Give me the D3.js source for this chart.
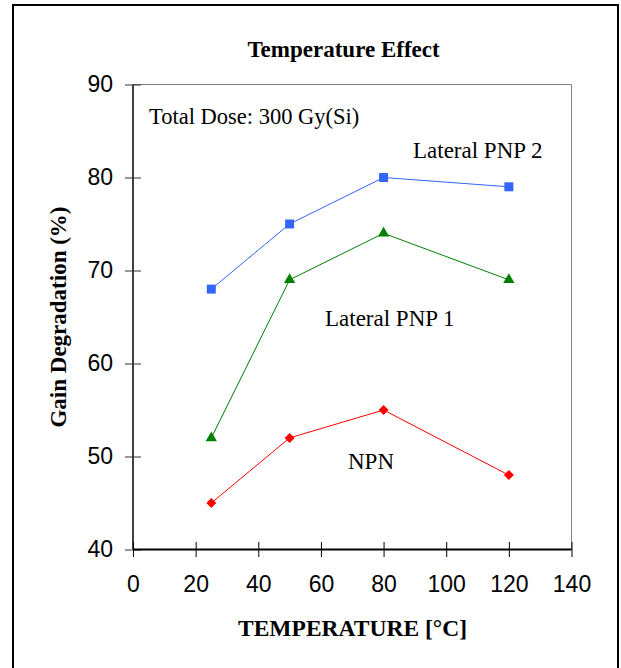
<!DOCTYPE html>
<html>
<head>
<meta charset="utf-8">
<script src="https://cdn.jsdelivr.net/npm/d3@7"></script>
<style>
  body { margin: 0; background: #fff; }
</style>
</head>
<body>
<div id="chart"></div>
<script>
// data
var temps = [25, 50, 80, 120];
var pnp2 = [68, 75, 80, 79];
var pnp1 = [52, 69, 74, 69];
var npn = [45, 52, 55, 48];
var xTicks = [0, 20, 40, 60, 80, 100, 120, 140];
var yTicks = [40, 50, 60, 70, 80, 90];

var W = 621, H = 668;
var pLeft = 133, pRight = 571.5, pTop = 84.5, pBottom = 549.5;

var svg = d3.select("#chart").append("svg")
    .attr("width", W)
    .attr("height", H);

// outer frame
svg.append("rect")
    .attr("x", 13).attr("y", 5)
    .attr("width", 605).attr("height", 700)
    .attr("fill", "none")
    .attr("stroke", "#000")
    .attr("stroke-width", 2);

var x = d3.scaleLinear().domain([0, 140]).range([pLeft, pRight]);
var y = d3.scaleLinear().domain([40, 90]).range([pBottom, pTop]);

// plot box top/right
svg.append("path")
    .attr("d", "M" + pLeft + "," + pTop + "H" + pRight + "V" + pBottom)
    .attr("fill", "none")
    .attr("stroke", "#808080")
    .attr("stroke-width", 1);

var yAxis = svg.append("g")
    .attr("transform", "translate(" + pLeft + ",0)")
    .call(d3.axisLeft(y).tickValues(yTicks).tickSize(8).tickPadding(12));
var xAxis = svg.append("g")
    .attr("transform", "translate(0," + pBottom + ")")
    .call(d3.axisBottom(x).tickValues(xTicks).tickSize(8).tickPadding(18));

[yAxis, xAxis].forEach(function (g) {
    g.select(".domain").attr("stroke", "#000").attr("stroke-width", 1.5);
    g.selectAll(".tick line").attr("stroke", "#000");
    g.selectAll(".tick text")
        .style("font-family", "Liberation Sans, Arial, sans-serif")
        .style("font-size", "23px")
        .attr("fill", "#000");
});
yAxis.select(".domain").attr("d", "M0," + pBottom + "V" + pTop);
yAxis.selectAll(".tick line").attr("x2", -8).attr("x1", 8).attr("stroke", "#333");
xAxis.select(".domain").attr("stroke-width", 2.2).attr("d", "M" + pLeft + ",0H" + pRight);
xAxis.selectAll(".tick line").attr("y1", -7.5).attr("y2", 7.5);

var serif = "Liberation Serif, Times New Roman, serif";

function addText(t, px, py, size, bold, anchor) {
    return svg.append("text")
        .attr("x", px).attr("y", py)
        .attr("text-anchor", anchor || "start")
        .style("font-family", serif)
        .style("font-size", size + "px")
        .style("font-weight", bold ? "bold" : "normal")
        .text(t);
}

addText("Temperature Effect", 343.5, 57, 23, true, "middle");
addText("TEMPERATURE [°C]", 352.5, 636, 23.5, true, "middle");
addText("Gain Degradation (%)", 0, 0, 23, true, "middle")
    .attr("transform", "translate(66,317) rotate(-90)");

addText("Total Dose: 300 Gy(Si)", 149, 124, 22.5, false);
addText("Lateral PNP 2", 413, 158, 23, false);
addText("Lateral PNP 1", 325, 326, 23, false);
addText("NPN", 348, 469, 23, false);

var series = [
    { vals: pnp2, color: "#3366ff", shape: d3.symbolSquare, size: 81, rot: 0 },
    { vals: pnp1, color: "#008000", shape: d3.symbolTriangle, size: 55, rot: 0 },
    { vals: npn, color: "#ff0000", shape: d3.symbolSquare, size: 50, rot: 45 }
];

var line = d3.line()
    .x(function (d) { return x(d[0]); })
    .y(function (d) { return y(d[1]); });

series.forEach(function (s) {
    var pts = temps.map(function (t, i) { return [t, s.vals[i]]; });
    svg.append("path")
        .attr("d", line(pts))
        .attr("fill", "none")
        .attr("stroke", s.color)
        .attr("stroke-width", 1);
    svg.selectAll(null)
        .data(pts)
        .enter()
        .append("path")
        .attr("d", d3.symbol().type(s.shape).size(s.size))
        .attr("transform", function (d) {
            return "translate(" + x(d[0]) + "," + y(d[1]) + ") rotate(" + s.rot + ")";
        })
        .attr("fill", s.color);
});
</script>
</body>
</html>
